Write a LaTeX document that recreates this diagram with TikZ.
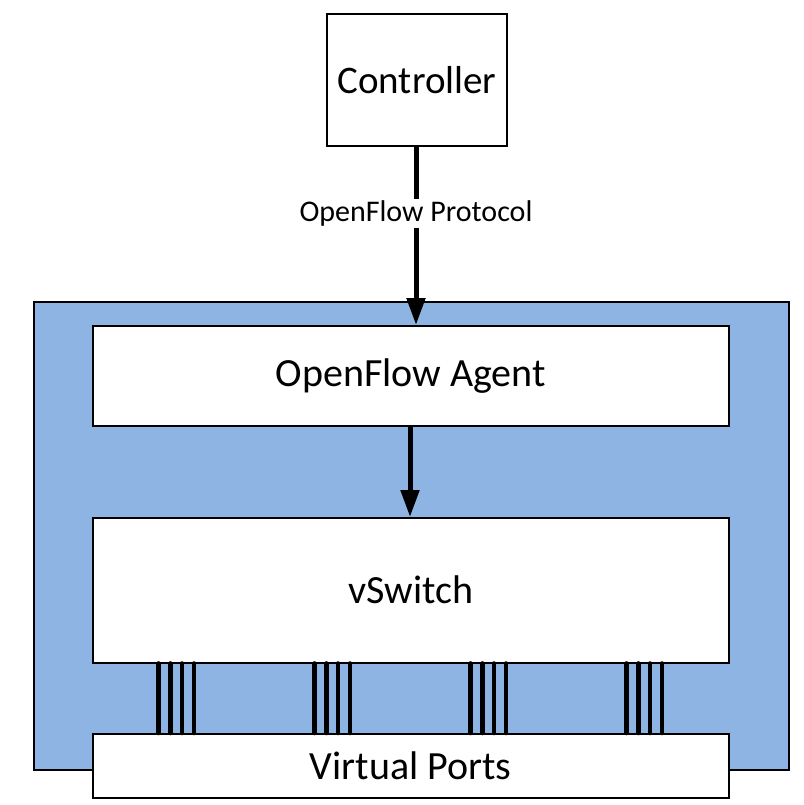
\documentclass[tikz,border=0pt]{standalone}
\usepackage{fontspec}
\setmainfont{Carlito}
\usetikzlibrary{arrows.meta,calc}
\definecolor{hostblue}{HTML}{8EB4E3}
\begin{document}
\begin{tikzpicture}[x=1pt,y=-1pt,
  box/.style={draw=black,fill=white,line width=1.5pt,inner sep=0pt,anchor=north west},
  bigarrow/.style={line width=5pt,-{Triangle[width=18pt,length=27pt]}},
  portline/.style={line width=4.6pt,line cap=round}]
\useasboundingbox (0,0) rectangle (803,805);
\fill[white] (0,0) rectangle (803,805);
% host container
\node[draw=black,fill=hostblue,line width=2pt,inner sep=0pt,anchor=north west,
      minimum width=755pt,minimum height=468pt] (host) at (33,301) {};
% controller
\node[box,line width=2pt,minimum width=180pt,minimum height=132pt,font=\fontsize{39}{44}\selectfont] (ctrl) at (326,13) {Controller};
% agent
\node[box,minimum width=636pt,minimum height=100pt,font=\fontsize{40}{46}\selectfont] (agent) at (92,325) {OpenFlow Agent};
% vswitch
\node[box,minimum width=636pt,minimum height=145pt,font=\fontsize{40}{46}\selectfont] (vs) at (92,517) {vSwitch};
% virtual ports
\node[box,minimum width=636pt,minimum height=64pt,font=\fontsize{40}{46}\selectfont] (vp) at (92,733) {Virtual Ports};
% arrows
\coordinate (c1) at (416,145);
\coordinate (c2) at (416,325);
\draw[bigarrow] (c1) -- (c2)
  node[pos=0.38,fill=white,inner sep=2pt,font=\fontsize{30}{34}\selectfont] (proto) {OpenFlow Protocol};
\coordinate (a1) at (410,425);
\coordinate (a2) at (410,517);
\draw[bigarrow] (a1) -- (a2);
% port lines
\foreach \gx in {158.7,314.7,470.7,626.7}{
  \foreach \dx in {0,11.7,23.4,35.4}{
    \coordinate (p) at (\gx+\dx,0);
    \draw[portline] (p |- vs.south) -- (p |- vp.north);
  }
}
\end{tikzpicture}
\end{document}
